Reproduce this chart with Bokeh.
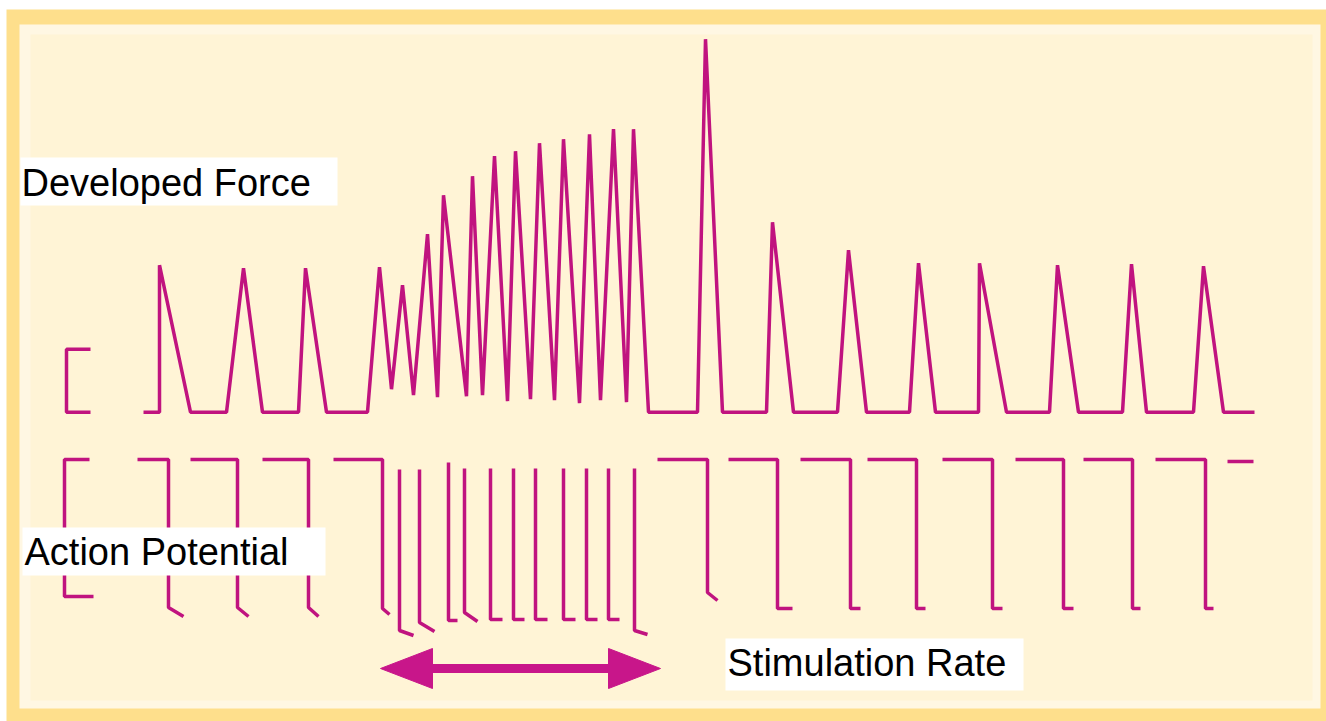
from bokeh.plotting import figure
from bokeh.models import Range1d
from bokeh.core.properties import value
from bokeh.embed import file_html
from bokeh.resources import INLINE

# ---------------- data ----------------
# Developed force trace: time (arbitrary units) and force (arbitrary units above baseline)
force_t = [143, 159, 159, 190, 226, 243, 262, 298, 305, 326,
           367, 379, 391, 402, 413, 427, 437, 443, 466, 472,
           482, 494, 507, 515, 530, 539, 554, 563, 579, 589,
           600, 613, 626, 633, 648, 697, 705, 722, 766, 772,
           793, 837, 848, 866, 909, 918, 935, 978, 979, 1006,
           1049, 1057, 1078, 1122, 1131, 1146, 1193, 1203, 1223, 1254]
force_f = [0, 0, 1.47, 0, 0, 1.44, 0, 0, 1.44, 0,
           0, 1.45, 0.23, 1.27, 0.17, 1.78, 0.15, 2.17, 0.16, 2.36,
           0.17, 2.56, 0.11, 2.61, 0.13, 2.69, 0.12, 2.73, 0.09, 2.78,
           0.12, 2.83, 0.10, 2.83, 0, 0, 3.73, 0, 0, 1.90,
           0, 0, 1.62, 0, 0, 1.49, 0, 0, 1.49, 0,
           0, 1.47, 0, 0, 1.48, 0, 0, 1.46, 0, 0]

# Action potentials (drawn downward): resting start, spike time, levels, tail
ap_rest_start = [137, 190, 262, 333, None, None, None, None, None, None, None,
                 None, None, None, None, 657, 728, 800, 867, 942, 1015, 1083, 1155]
ap_spike_t = [168, 237, 308, 382, 399, 419, 448, 464, 490, 513, 535,
              563, 586, 608, 634, 707, 777, 850, 916, 992, 1063, 1132, 1205]
ap_onset_v = [0, 0, 0, 0, -0.10, -0.10, -0.03, -0.09, -0.09, -0.09, -0.09,
              -0.09, -0.09, -0.09, -0.09, 0, 0, 0, 0, 0, 0, 0, 0]
ap_trough_v = [-1.48, -1.48, -1.48, -1.49, -1.71, -1.63, -1.61, -1.53, -1.60, -1.60, -1.60,
               -1.60, -1.60, -1.60, -1.71, -1.33, -1.49, -1.49, -1.49, -1.49, -1.49, -1.49, -1.49]
ap_tail_t = [183, 248, 318, 389, 413, 434, 457, 477, 502, 524, 547,
             575, 597, 619, 647, 717, 792, 860, 925, 1002, 1073, 1140, 1213]
ap_tail_v = [-1.57, -1.57, -1.57, -1.55, -1.76, -1.72, -1.61, -1.62, -1.60, -1.60, -1.60,
             -1.60, -1.60, -1.60, -1.75, -1.41, -1.49, -1.49, -1.49, -1.49, -1.49, -1.49, -1.49]
ap_final_t = [1227, 1253]
ap_final_v = [-0.02, -0.02]

# calibration brackets
force_cal_t = [90, 66, 66, 90]
force_cal_f = [0.63, 0.63, 0, 0]
ap_cal_t = [89, 64, 64, 93]
ap_cal_v = [0, 0, -1.37, -1.37]

# high stimulation rate interval (arrow)
stim_interval = [380, 660]

labels = ["Developed Force", "Action Potential", "Stimulation Rate"]

# ---------------- styling / layout ----------------
GOLD = "#FEDF8C"
CREAM = "#FFF4D6"
CREAM_EDGE = "#FFF7E3"
LINE = "#C0137F"
ARROW = "#C8168A"
LW = 3.5

W, H = 1326, 721
p = figure(width=W, height=H, x_range=Range1d(0, W), y_range=Range1d(H, 0),
           output_backend="svg", toolbar_location=None,
           x_axis_location=None, y_axis_location=None, min_border=0,
           background_fill_color="white", border_fill_color="white", outline_line_color=None)
p.grid.visible = False

# force range: baseline at pixel row 411.7, 100 px per unit; ap: rest at row 459
p.extra_y_ranges = {
    "force": Range1d((411.7 - H) / 100, (411.7 - 0) / 100),
    "ap": Range1d((459 - H) / 100, (459 - 0) / 100),
}

# background panel
p.quad(left=[6], right=[W], top=[9], bottom=[H], fill_color=GOLD, line_color=None)
p.quad(left=[19], right=[1320], top=[24], bottom=[708], fill_color=CREAM_EDGE, line_color=None)
p.quad(left=[30], right=[1312], top=[34], bottom=[700], fill_color=CREAM, line_color=None)

# force trace
p.line(force_t, force_f, y_range_name="force", line_color=LINE, line_width=LW)
p.line(force_cal_t, force_cal_f, y_range_name="force", line_color=LINE, line_width=LW)

# action potentials
xs, ys = [], []
for rs, st, ov, tv, tt, tlv in zip(ap_rest_start, ap_spike_t, ap_onset_v,
                                    ap_trough_v, ap_tail_t, ap_tail_v):
    x = ([rs] if rs is not None else []) + [st, st, tt]
    y = ([ov] if rs is not None else []) + [ov, tv, tlv]
    xs.append(x)
    ys.append(y)
xs.append(ap_final_t)
ys.append(ap_final_v)
xs.append(ap_cal_t)
ys.append(ap_cal_v)
p.multi_line(xs, ys, y_range_name="ap", line_color=LINE, line_width=LW)

# arrow
ay = 668
hl, hw = 52, 20
a0, a1 = stim_interval
p.line([a0 + hl - 4, a1 - hl + 4], [ay, ay], line_color=ARROW, line_width=9)
p.patches([[a0, a0 + hl, a0 + hl], [a1, a1 - hl, a1 - hl]],
          [[ay, ay - hw, ay + hw], [ay, ay - hw, ay + hw]],
          fill_color=ARROW, line_color=ARROW, line_width=1)

# label boxes and text
box_l = [20, 22, 725]
box_r = [337, 325, 1023]
box_t = [157, 527, 638]
box_b = [205, 575, 690]
p.quad(left=box_l, right=box_r, top=box_t, bottom=box_b, fill_color="white", line_color=None)
p.text(x=[21, 24, 727], y=[182, 551, 662], text=labels,
       text_font=value("Liberation Sans"), text_font_size="38px",
       text_color="black", text_align="left", text_baseline="alphabetic")

open("out.html", "w").write(file_html(p, INLINE))
